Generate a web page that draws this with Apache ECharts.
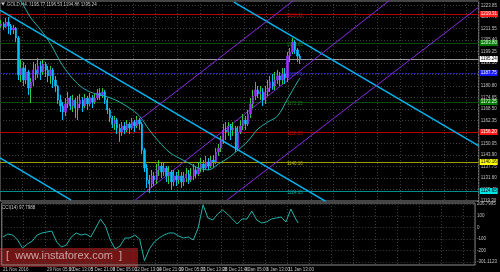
<!DOCTYPE html>
<html><head><meta charset="utf-8">
<script src="https://cdn.jsdelivr.net/npm/echarts@6/dist/echarts.min.js"></script>
<style>html,body{margin:0;padding:0;background:#000;}#c{width:500px;height:272px;}</style>
</head><body><div id="c"></div>
<script>
// ---- data ----
const timeLabels = ["21 Nov 2016","24 Nov 05:00","29 Nov 05:00","1 Dec 13:00","5 Dec 21:00","8 Dec 05:00",
  "12 Dec 13:00","14 Dec 21:00","19 Dec 05:00","21 Dec 13:00","28 Dec 21:00","4 Jan 05:00","6 Jan 13:00","11 Jan 13:00"];
const firstOpen = 1213.0;
const closes = [
 1214.0,1212.4,1215.0,1212.9,1210.8,1211.8,1206.5,1186.7,1190.4,1184.0,
 1188.3,1179.7,1182.9,1189.4,1187.2,1191.5,1188.3,1192.6,1189.4,1186.2,
 1189.4,1184.0,1180.8,1173.3,1170.1,1166.9,1171.2,1174.4,1170.1,1173.3,
 1169.0,1171.2,1173.3,1170.1,1174.4,1171.2,1174.4,1172.2,1174.4,1177.1,
 1175.5,1177.6,1173.3,1168.0,1163.7,1160.5,1162.6,1158.3,1156.2,1159.4,
 1157.3,1160.5,1158.3,1161.5,1159.4,1162.6,1160.5,1146.6,1136.9,1130.5,
 1128.4,1132.7,1130.5,1135.9,1138.0,1134.8,1136.9,1132.7,1134.8,1129.5,
 1132.7,1130.5,1132.7,1129.5,1131.6,1133.7,1130.5,1132.7,1135.9,1133.7,
 1136.9,1139.1,1136.9,1140.2,1138.0,1141.2,1140.2,1145.5,1147.6,1151.9,
 1157.3,1156.2,1159.4,1157.3,1158.3,1147.6,1156.2,1159.4,1162.6,1160.5,
 1165.8,1171.2,1175.5,1178.7,1176.5,1177.6,1173.3,1177.6,1179.7,1182.9,
 1180.8,1184.0,1186.2,1184.0,1187.2,1185.1,1196.8,1199.0,1204.3,1200.1,
 1196.8,1195.24];
const highs = [
 1216.1,1215.0,1217.2,1217.7,1214.0,1213.4,1212.4,1207.5,1194.7,1193.6,
 1192.0,1189.4,1185.1,1193.6,1192.6,1195.8,1194.2,1194.7,1193.6,1191.5,
 1191.5,1190.4,1186.2,1181.3,1176.0,1172.2,1174.4,1177.6,1175.5,1176.0,
 1174.4,1175.5,1176.5,1174.9,1176.5,1175.5,1177.1,1176.0,1176.5,1179.2,
 1179.7,1179.7,1178.7,1174.4,1169.0,1164.8,1164.8,1163.7,1160.5,1161.5,
 1161.5,1162.6,1161.5,1163.7,1162.6,1164.8,1163.7,1161.5,1147.6,1139.1,
 1133.2,1135.9,1134.8,1139.1,1141.2,1140.2,1140.2,1138.0,1138.0,1135.9,
 1135.9,1134.8,1135.9,1134.8,1134.8,1136.9,1135.9,1136.9,1139.1,1138.0,
 1140.2,1142.3,1141.2,1143.4,1142.3,1143.4,1143.9,1147.6,1149.8,1154.1,
 1160.5,1161.5,1161.5,1160.5,1161.5,1159.4,1159.4,1162.6,1165.8,1164.8,
 1168.0,1174.4,1178.7,1182.9,1180.8,1180.8,1179.7,1180.8,1184.0,1186.2,
 1187.2,1188.3,1189.4,1188.3,1190.4,1190.4,1199.0,1201.1,1206.5,1205.4,
 1201.1,1197.9];
const lows = [
 1211.8,1210.8,1211.8,1208.6,1208.1,1208.6,1204.3,1184.0,1182.9,1180.8,
 1181.9,1176.0,1171.7,1180.8,1184.0,1185.1,1184.0,1186.7,1185.6,1182.9,
 1181.9,1179.7,1177.6,1171.2,1166.9,1162.6,1164.8,1169.0,1168.0,1166.9,
 1163.7,1162.6,1169.0,1166.9,1169.0,1168.0,1170.1,1169.0,1171.2,1173.3,
 1173.3,1174.4,1171.2,1165.8,1161.5,1158.3,1157.3,1155.1,1150.9,1154.1,
 1155.1,1156.2,1155.1,1157.3,1156.2,1158.3,1157.3,1144.4,1134.8,1126.3,
 1123.6,1126.3,1127.3,1128.4,1132.7,1131.6,1132.7,1129.5,1128.4,1125.2,
 1127.3,1127.3,1128.4,1126.3,1127.3,1129.5,1128.4,1129.5,1130.5,1131.6,
 1132.7,1134.8,1134.8,1135.9,1135.9,1136.9,1136.9,1139.1,1143.4,1145.5,
 1149.8,1151.9,1154.1,1151.9,1154.1,1145.5,1146.6,1155.1,1157.3,1157.3,
 1159.4,1163.7,1169.0,1173.3,1174.4,1173.3,1170.1,1171.2,1175.5,1177.6,
 1178.7,1178.7,1181.9,1180.8,1181.9,1181.9,1182.9,1193.6,1197.9,1197.9,
 1193.6,1192.6];
// moving average, read every 4th bar (last value on the last bar)
const maValues = [1240.2,1232.7,1226.0,1217.2,1210.8,1203.3,1193.6,1186.2,1180.8,1177.6,
 1176.0,1174.6,1172.2,1169.0,1164.8,1157.3,1150.9,1145.5,1142.3,1139.6,
 1136.9,1135.9,1139.1,1142.3,1146.6,1151.4,1157.8,1161.5,1164.8,1173.8,1182.9];
const maLast = 1185.1;
// CCI, read every 2nd bar (last value on the last bar)
const cciValues = [-82.2,-55.9,-64.7,-108.5,-178.5,-143.5,-117.2,-64.7,-47.2,-38.4,
 -29.6,-126.0,-169.8,-152.2,-82.2,-47.2,-64.7,-55.9,-82.2,-3.4,
 75.0,14.1,-108.5,-187.3,-161.0,-90.9,-90.9,-64.7,-99.7,-290.0,
 -187.3,-126.0,-90.9,-64.7,-47.2,-47.2,-73.4,-90.9,-82.2,-108.5,
 -3.4,200.0,84.2,66.7,119.2,154.3,119.2,75.4,31.7,75.4,
 75.4,145.5,66.7,40.4,49.2,75.4,84.2,93.0,49.2,163.0,75.4];
const cciLast = 40.4;
// horizontal levels
const levelValues = [1219.31,1203.80,1187.75,1172.25,1156.20,1140.16,1124.65];
const levelColors = ['#b40000','#0b4a0b','#2323b4','#0b4a0b','#b40000','#9c9c00','#008f8f'];
const levelBoxBg  = ['#ff1a1a','#007a00','#1a1aff','#007a00','#ff1a1a','#ffff00','#00e5e5'];
const levelBoxFg  = ['#ffffff','#ffffff','#ffffff','#ffffff','#ffffff','#000000','#000000'];
const levelTextColors = ['#c00000','#1f7a1f','#3030d0','#1f7a1f','#c00000','#b8b800','#00a0a0'];
const bidPrice = 1195.24;
// trend lines: [bar position, price] pairs
const cyanLines = [[[0,1221.4],[132,1119.1]], [[94.8,1225.7],[194,1148.8]], [[0,1142.3],[28.8,1119.8]]];
const purpleLines = [[[56,1162.1],[119.2,1226.8]], [[54.8,1119.8],[158,1226.8]], [[92,1119.8],[194,1223.0]]];
const priceTicks = {min:1119.30, max:1226.26, step:6.15};
const cciTicks = [206.7995,100,0,-100,-200,-301.1123];

// ---- build ----
const totalSlots = 194, labelEvery = 9, maEvery = 4, cciEvery = 2;
const categories = Array.from({length: totalSlots}, (_, i) => i % labelEvery === 0 ? (timeLabels[i / labelEvery] || '') : '');
const candles = closes.map((c, i) => {
  const o = i === 0 ? firstOpen : closes[i - 1];
  return [o, c, Math.min(lows[i], o, c), Math.max(highs[i], o, c)];
});
const bodies = candles.map(([o, c]) => [o, c, Math.min(o, c), Math.max(o, c)]);
const n = closes.length;
const maData = new Array(n).fill(null);
maValues.forEach((v, k) => { maData[k * maEvery] = v; });
maData[n - 1] = maLast;
const cciData = new Array(n).fill(null);
cciValues.forEach((v, k) => { cciData[k * cciEvery] = v; });
cciData[n - 1] = cciLast;

const dotted = {color: '#3d3d3d', type: [1, 2], width: 1};
const FONT = 'Liberation Sans';

const markLineData = levelValues.map((v, i) => ({
  yAxis: v,
  lineStyle: {color: levelColors[i], width: 1, type: i === 2 ? [2, 1] : 'solid'},
  label: {show: true, position: 'end', distance: 1, formatter: v.toFixed(2), color: levelBoxFg[i],
          backgroundColor: levelBoxBg[i], fontSize: 4.5, padding: [0.5, 1], fontFamily: FONT}
}));
markLineData.push({
  yAxis: bidPrice,
  lineStyle: {color: '#9a9a9a', width: 1, type: 'solid'},
  label: {show: true, position: 'end', distance: 1, formatter: bidPrice.toFixed(2), color: '#000',
          backgroundColor: '#ffffff', fontSize: 4.5, padding: [0.5, 1], fontFamily: FONT}
});
const markPointData = levelValues.map((v, i) => ({
  coord: [119, v], symbolSize: 0,
  label: {show: true, formatter: v.toFixed(2), color: levelTextColors[i], fontSize: 4.5, fontFamily: FONT, offset: [0, 2]}
}));

const lineSeries = [];
cyanLines.forEach(l => lineSeries.push({type: 'line', xAxisIndex: 1, yAxisIndex: 0, data: l, showSymbol: false,
  lineStyle: {color: '#00b4f0', width: 1.5}, z: 3, silent: true}));
purpleLines.forEach(l => lineSeries.push({type: 'line', xAxisIndex: 1, yAxisIndex: 0, data: l, showSymbol: false,
  lineStyle: {color: '#8a2be2', width: 1}, z: 3, silent: true}));

const chart = echarts.init(document.getElementById('c'), null, {renderer: 'canvas'});
chart.setOption({
  backgroundColor: '#000000',
  animation: false,
  textStyle: {fontFamily: FONT},
  grid: [
    {left: 0, right: 15, top: 1, height: 200, show: true, borderColor: '#8c8c8c', borderWidth: 1},
    {left: 0, right: 15, top: 203, height: 62, show: true, borderColor: '#8c8c8c', borderWidth: 1}
  ],
  xAxis: [
    {type: 'category', gridIndex: 0, data: categories, boundaryGap: true,
     axisLine: {show: false}, axisTick: {show: false}, axisLabel: {show: false},
     splitLine: {show: true, interval: (i) => i % labelEvery === 0, lineStyle: dotted}},
    {type: 'value', gridIndex: 0, min: 0, max: totalSlots, show: false},
    {type: 'category', gridIndex: 1, data: categories, boundaryGap: true,
     axisLine: {show: false}, axisTick: {show: false},
     axisLabel: {interval: (i) => i % labelEvery === 0, align: 'left', color: '#c0c0c0', fontSize: 4.5, margin: 2,
                 fontFamily: FONT, hideOverlap: false, showMinLabel: true},
     splitLine: {show: true, interval: (i) => i % labelEvery === 0, lineStyle: dotted}}
  ],
  yAxis: [
    {type: 'value', gridIndex: 0, position: 'right', min: priceTicks.min, max: priceTicks.max, interval: priceTicks.step,
     axisLine: {show: false}, axisTick: {show: false},
     axisLabel: {color: '#c0c0c0', fontSize: 4.5, margin: 2, fontFamily: FONT, showMaxLabel: false, formatter: v => v.toFixed(2)},
     splitLine: {show: true, lineStyle: dotted}},
    {type: 'value', gridIndex: 1, position: 'right', min: -327.4, max: 215.6,
     axisLine: {show: false}, axisTick: {show: false, customValues: cciTicks},
     axisLabel: {customValues: cciTicks, color: '#c0c0c0', fontSize: 4.5, margin: 2, fontFamily: FONT,
                 formatter: v => (Math.abs(v) > 200.5 ? v.toFixed(4) : String(v))},
     splitLine: {show: true, lineStyle: dotted}}
  ],
  series: [
    {type: 'candlestick', xAxisIndex: 0, yAxisIndex: 0, data: candles, barWidth: 1, z: 4, silent: true,
     itemStyle: {color: '#32cd32', color0: '#00bfff', borderColor: '#32cd32', borderColor0: '#00bfff', borderWidth: 1},
     markLine: {symbol: ['none', 'none'], silent: true, animation: false, data: markLineData, z: 2},
     markPoint: {symbol: 'circle', silent: true, data: markPointData}},
    {type: 'candlestick', xAxisIndex: 0, yAxisIndex: 0, data: bodies, barWidth: 1.8, z: 5, silent: true,
     itemStyle: {color: '#9b30ff', color0: '#00bfff', borderColor: '#9b30ff', borderColor0: '#00bfff', borderWidth: 0.6}},
    {type: 'line', xAxisIndex: 0, yAxisIndex: 0, data: maData, connectNulls: true, showSymbol: false, smooth: 0.3,
     lineStyle: {color: '#20b2aa', width: 1}, z: 6, silent: true},
    ...lineSeries,
    {type: 'line', xAxisIndex: 2, yAxisIndex: 1, data: cciData, connectNulls: true, showSymbol: false,
     lineStyle: {color: '#20b2aa', width: 1}, silent: true}
  ],
  graphic: [
    {type: 'polygon', shape: {points: [[1, 2.5], [5, 2.5], [3, 5.5]]}, style: {fill: '#d0d0d0'}},
    {type: 'text', x: 7, y: 2, style: {text: 'GOLD,H4  1195.77 1196.53 1194.86 1195.24', fill: '#d0d0d0', font: '4.5px "Liberation Sans"'}},
    {type: 'text', x: 2, y: 205, style: {text: 'CCI(14) 97.7988', fill: '#d0d0d0', font: '4.5px "Liberation Sans"'}},
    {type: 'rect', shape: {x: 0, y: 248, width: 138, height: 19}, style: {fill: 'rgba(140,24,24,0.82)'}, z: -1},
    {type: 'text', x: 6, y: 250, style: {text: '[  www.instaforex.com  ]', fill: '#c9a6a6', font: '11px "Liberation Sans"'}, z: -1}
  ]
});
</script></body></html>
